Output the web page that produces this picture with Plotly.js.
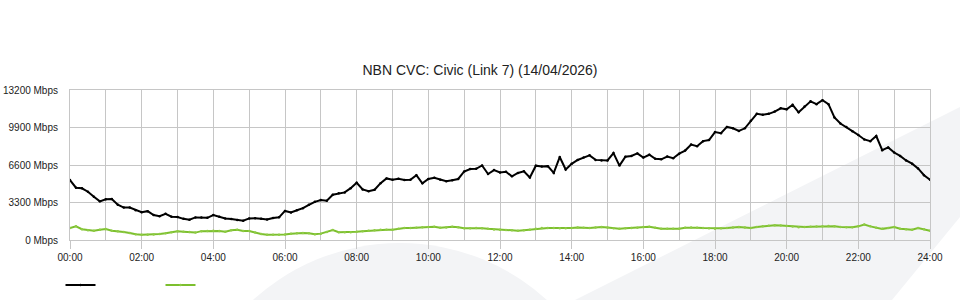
<!DOCTYPE html>
<html>
<head>
<meta charset="utf-8">
<script src="https://cdn.plot.ly/plotly-3.0.1.min.js"></script>
<style>
html,body{margin:0;padding:0;background:#ffffff;}
#chart{width:960px;height:300px;}
</style>
</head>
<body>
<div id="chart"></div>
<script>
const chartTitle = "NBN CVC: Civic (Link 7) (14/04/2026)";
const stepMinutes = 10;

const downloadMbps = [
  5280,4600,4550,4250,3800,3400,3580,3600,3100,2850,
  2850,2620,2450,2540,2200,2100,2300,2050,2030,1860,
  1790,1990,1990,1950,2190,2040,1890,1840,1750,1700,
  1900,1920,1860,1800,1930,1995,2560,2420,2620,2800,
  3100,3360,3520,3460,3980,4110,4190,4560,5040,4450,
  4300,4420,5000,5420,5300,5380,5290,5300,
  5700,4990,5370,5480,5300,5170,5250,5370,6030,6250,
  6260,6560,5810,6150,5940,6000,5600,5900,6040,5500,
  6540,6470,6500,5900,7300,6200,6700,7040,7250,
  7450,7050,7000,7000,7650,6550,7330,7400,7620,7250,
  7500,7150,7100,7350,7200,7600,7870,8400,8250,8700,
  8800,9500,9400,9950,9830,9600,9830,10500,11100,
  11030,11100,11300,11590,11500,11900,11235,11750,12200,11950,
  12300,11950,10780,10250,9950,9580,9240,8850,8700,9150,
  7900,8150,7700,7400,7000,6720,6300,5700,5310
];

const uploadMbps = [
  1056,1200,950,860,820,900,960,820,780,700,
  620,500,470,470,490,530,600,680,780,730,
  710,650,780,800,820,800,720,850,900,800,
  800,650,520,470,470,470,480,560,600,620,
  600,500,560,700,870,680,680,680,730,770,
  810,850,900,910,910,980,1056,1056,
  1080,1115,1140,1170,1080,1100,1170,1120,1030,1040,
  1056,1030,980,930,900,880,850,820,860,910,
  980,1056,1056,1056,1040,1030,1060,1110,1080,
  1056,1100,1150,1100,1030,1000,1030,1056,1080,1140,
  1170,1080,1000,1000,997,1000,1080,1110,1080,1056,
  1030,997,1030,1056,1110,1150,1100,1060,1150,
  1210,1250,1290,1270,1230,1180,1120,1140,1170,1190,
  1210,1230,1220,1150,1115,1115,1200,1370,1200,1080,
  980,1060,1140,1000,940,910,1056,940,821
];

const xTickValues = [0,2,4,6,8,10,12,14,16,18,20,22,24];
const xTickLabels = ["00:00","02:00","04:00","06:00","08:00","10:00","12:00","14:00","16:00","18:00","20:00","22:00","24:00"];
const yTickValues = [0,3300,6600,9900,13200];
const yTickLabels = ["0 Mbps","3300 Mbps","6600 Mbps","9900 Mbps","13200 Mbps"];

const hours = downloadMbps.map((_, i) => i * stepMinutes / 60);

const FONT = "Liberation Sans, Arial, Helvetica, sans-serif";
const GRID = "#c6c6c6";
const SWOOSH = "#f3f4f6";

// plot area in pixels: x 70..930, y 90..240 (for decoration placement)
const PX = {l: 70, r: 930, t: 90, b: 240};
const px2x = p => (p - PX.l) / (PX.r - PX.l);
const px2y = p => (PX.b - p) / (PX.b - PX.t);

const traces = [
  {
    x: hours, y: downloadMbps, type: "scatter", mode: "lines+markers",
    name: "", line: {color: "#000000", width: 2}, marker: {color: "#000000", size: 2.5},
    hoverinfo: "skip"
  },
  {
    x: hours, y: uploadMbps, type: "scatter", mode: "lines+markers",
    name: "", line: {color: "#7cbf2e", width: 2}, marker: {color: "#8fcc45", size: 2.5},
    hoverinfo: "skip"
  }
];

const layout = {
  width: 960, height: 300,
  margin: {l: 70, r: 30, t: 90, b: 60, pad: 0, autoexpand: false},
  paper_bgcolor: "#ffffff",
  plot_bgcolor: "rgba(0,0,0,0)",
  font: {family: FONT, size: 10, color: "#222222"},
  title: {
    text: chartTitle, x: 0.5, xref: "container", xanchor: "center",
    y: 1 - 70 / 300, yref: "container", yanchor: "middle",
    font: {family: FONT, size: 14, color: "#222222"}
  },
  showlegend: true,
  legend: {
    orientation: "h", x: px2x(60.5), xanchor: "left", y: px2y(285), yanchor: "middle",
    entrywidth: 55, entrywidthmode: "pixels", bgcolor: "rgba(0,0,0,0)",
    font: {family: FONT, size: 10}, itemclick: false, itemdoubleclick: false
  },
  xaxis: {
    range: [0, 24], tickmode: "array", tickvals: xTickValues, ticktext: xTickLabels,
    ticks: "outside", ticklen: 8, tickcolor: GRID, tickwidth: 1,
    showgrid: true, gridcolor: GRID, gridwidth: 1,
    minor: {dtick: 1, tick0: 0, showgrid: true, gridcolor: GRID, gridwidth: 1, ticks: ""},
    showline: true, linecolor: GRID, linewidth: 1, mirror: true,
    zeroline: false, fixedrange: true,
    tickfont: {family: FONT, size: 10, color: "#222222"}
  },
  yaxis: {
    range: [0, 13200], tickmode: "array", tickvals: yTickValues, ticktext: yTickLabels,
    ticks: "outside", ticklen: 9, tickcolor: "rgba(0,0,0,0)",
    showgrid: true, gridcolor: GRID, gridwidth: 1,
    showline: true, linecolor: GRID, linewidth: 1, mirror: true,
    zeroline: false, fixedrange: true,
    tickfont: {family: FONT, size: 10, color: "#222222"}
  },
  shapes: [
    {
      type: "circle", xref: "paper", yref: "paper", layer: "below",
      x0: px2x(182), x1: px2x(618), y0: px2y(679), y1: px2y(243),
      fillcolor: SWOOSH, line: {width: 0}
    },
    {
      type: "path", xref: "paper", yref: "paper", layer: "below",
      path: "M" + px2x(575) + "," + px2y(300) +
            " L" + px2x(960) + "," + px2y(107) +
            " L" + px2x(960) + "," + px2y(217) +
            " L" + px2x(892) + "," + px2y(300) + " Z",
      fillcolor: SWOOSH, line: {width: 0}
    }
  ]
};

Plotly.newPlot("chart", traces, layout, {staticPlot: true, displayModeBar: false});
</script>
</body>
</html>
